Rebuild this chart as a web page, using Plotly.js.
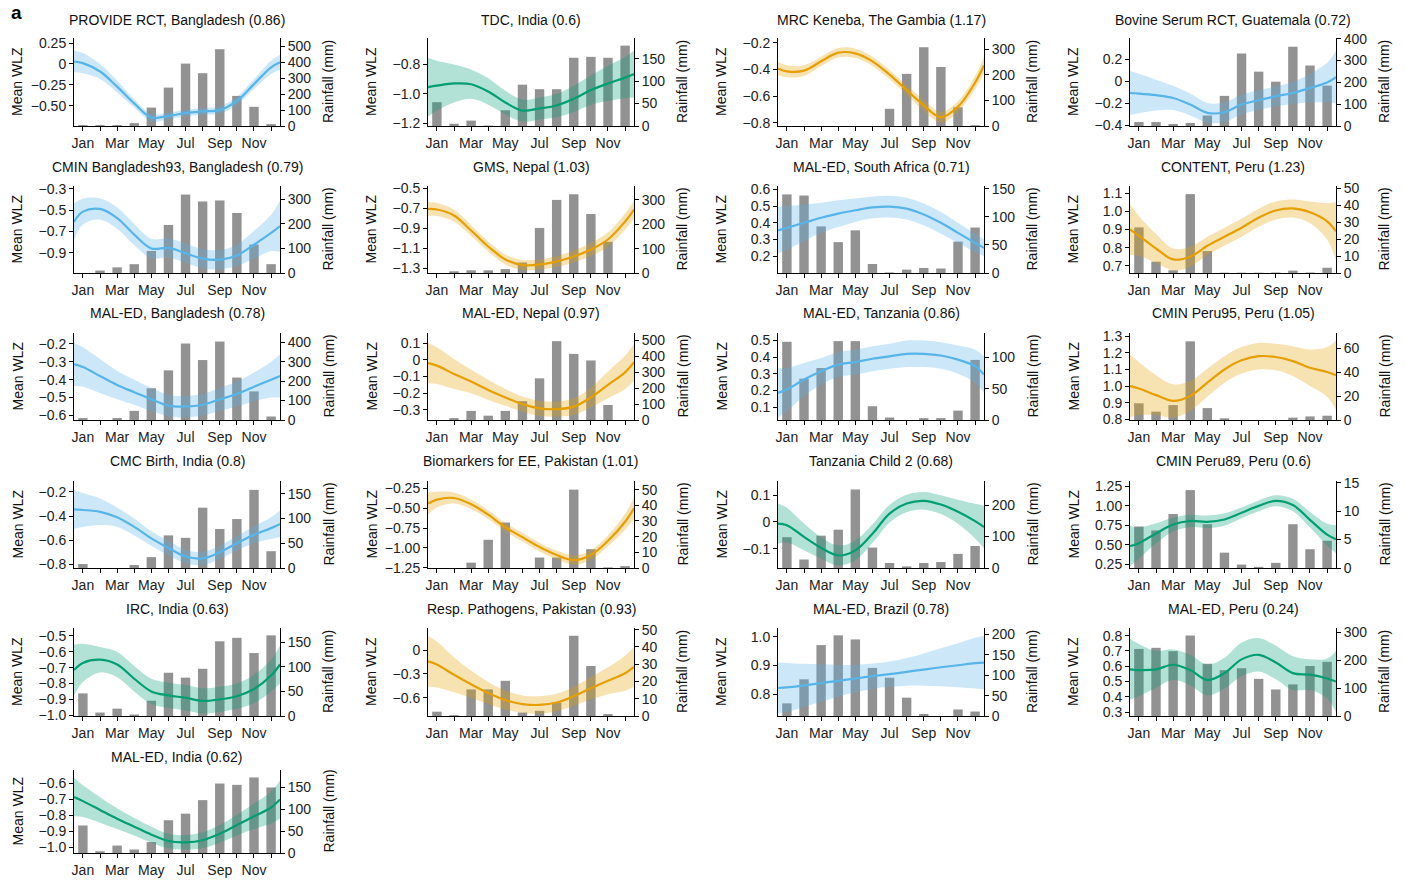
<!DOCTYPE html>
<html><head><meta charset="utf-8">
<script src="https://cdn.plot.ly/plotly-3.0.1.min.js"></script>
<style>html,body{margin:0;padding:0;background:#fff}#chart{width:1406px;height:880px}</style>
</head><body><div id="chart"></div>
<script>
// ---------- DATA ----------
const monthIndex = [1,2,3,4,5,6,7,8,9,10,11,12];
const monthLabels = ['Jan','','Mar','','May','','Jul','','Sep','','Nov',''];
// months at which the fitted WLZ curve was read (edges of the year axis included)
const curveMonths = [0.48,1,2,3,4,5,6,7,8,9,10,11,12,12.52];

const titles = [
 'PROVIDE RCT, Bangladesh (0.86)','TDC, India (0.6)','MRC Keneba, The Gambia (1.17)','Bovine Serum RCT, Guatemala (0.72)',
 'CMIN Bangladesh93, Bangladesh (0.79)','GMS, Nepal (1.03)','MAL-ED, South Africa (0.71)','CONTENT, Peru (1.23)',
 'MAL-ED, Bangladesh (0.78)','MAL-ED, Nepal (0.97)','MAL-ED, Tanzania (0.86)','CMIN Peru95, Peru (1.05)',
 'CMC Birth, India (0.8)','Biomarkers for EE, Pakistan (1.01)','Tanzania Child 2 (0.68)','CMIN Peru89, Peru (0.6)',
 'IRC, India (0.63)','Resp. Pathogens, Pakistan (0.93)','MAL-ED, Brazil (0.78)','MAL-ED, Peru (0.24)',
 'MAL-ED, India (0.62)'
];
const seriesColor = ['blue','green','orange','blue','blue','orange','blue','orange','blue','orange','blue','orange',
 'blue','orange','green','green','green','orange','blue','green','green'];

// monthly rainfall (mm), Jan..Dec
const rainfall = [
 [6,6,6,18,115,240,390,330,480,188,120,12],
 [53,5,12,1,35,92,82,82,152,154,152,179],
 [0,0,0,0,0,0,67,203,307,230,73,3],
 [18,18,9,14,48,138,332,249,203,363,277,185],
 [0,10,23,36,90,196,320,292,296,245,116,36],
 [0,7,11,11,16,43,185,300,323,242,128,0],
 [140,138,83,55,76,16,1,6,9,8,56,81],
 [27,6.7,1.6,46.7,13,0.2,0.2,0.2,0.3,1.4,0.3,3.1],
 [10,0,10,47,163,255,393,308,403,218,147,18],
 [0,12,57,27,57,118,261,494,414,373,94,0],
 [125,66,83,126,126,22,4,0,3,3,15,96],
 [14,7,12.5,66,10,1.4,0,0,0,2,3,3.6],
 [8,0,0,6,22,66,61,122,79,99,158,34],
 [0,0,3.4,18,29,0,6.7,6.7,50,12,0.4,1.2],
 [98,27,103,122,250,65,16,5,16,19,45,70],
 [7.3,6.6,9.5,13.7,7.7,2.7,0.6,0.2,0.9,7.7,3.3,4.8],
 [46,7,15,3,31,88,78,96,152,159,128,164],
 [2.5,0.5,15.4,15.4,20.4,2,3,7.7,46.5,29,1.1,0],
 [31,90,174,198,188,118,94,45,5,0,16,11],
 [240,244,232,288,187,164,171,133,95,113,179,194],
 [63,4,17,8,25,75,90,121,159,156,173,150]
];

// fitted mean WLZ at curveMonths
const wlzMean = [
 [0.03,0.01,-0.09,-0.27,-0.47,-0.64,-0.62,-0.585,-0.565,-0.55,-0.44,-0.24,-0.04,0.02],
 [-0.955,-0.945,-0.93,-0.935,-0.985,-1.06,-1.115,-1.1,-1.08,-1.035,-0.975,-0.93,-0.89,-0.865],
 [-0.395,-0.415,-0.41,-0.34,-0.275,-0.28,-0.34,-0.44,-0.555,-0.67,-0.76,-0.68,-0.5,-0.37],
 [-0.105,-0.11,-0.125,-0.15,-0.21,-0.285,-0.28,-0.21,-0.17,-0.135,-0.105,-0.06,-0.01,0.04],
 [-0.61,-0.515,-0.49,-0.575,-0.73,-0.86,-0.855,-0.905,-0.955,-0.965,-0.925,-0.825,-0.715,-0.65],
 [-0.705,-0.71,-0.77,-0.92,-1.08,-1.21,-1.265,-1.26,-1.23,-1.18,-1.11,-1.01,-0.83,-0.71],
 [0.355,0.37,0.4,0.43,0.455,0.475,0.492,0.497,0.485,0.45,0.4,0.34,0.28,0.25],
 [0.9,0.865,0.795,0.735,0.75,0.81,0.86,0.91,0.965,1.005,1.016,0.995,0.945,0.89],
 [-0.315,-0.33,-0.38,-0.43,-0.47,-0.51,-0.545,-0.55,-0.54,-0.51,-0.48,-0.44,-0.4,-0.38],
 [-0.02,-0.035,-0.085,-0.13,-0.18,-0.225,-0.265,-0.29,-0.295,-0.28,-0.225,-0.15,-0.075,-0.015],
 [0.185,0.205,0.265,0.315,0.355,0.37,0.39,0.405,0.42,0.42,0.41,0.385,0.345,0.295],
 [1.0,0.985,0.945,0.91,0.94,1.02,1.1,1.155,1.18,1.175,1.15,1.11,1.085,1.065],
 [-0.345,-0.35,-0.365,-0.41,-0.49,-0.585,-0.665,-0.735,-0.75,-0.7,-0.625,-0.555,-0.5,-0.465],
 [-0.44,-0.39,-0.37,-0.45,-0.58,-0.74,-0.865,-0.99,-1.09,-1.155,-1.09,-0.91,-0.67,-0.5],
 [-0.006,-0.012,-0.056,-0.097,-0.125,-0.106,-0.044,0.031,0.069,0.079,0.065,0.038,0.003,-0.019],
 [0.48,0.52,0.645,0.76,0.805,0.795,0.825,0.91,1.0,1.065,1.01,0.82,0.63,0.57],
 [-0.715,-0.67,-0.65,-0.68,-0.77,-0.85,-0.875,-0.89,-0.91,-0.9,-0.88,-0.835,-0.75,-0.68],
 [-0.14,-0.18,-0.31,-0.43,-0.54,-0.63,-0.68,-0.69,-0.66,-0.58,-0.48,-0.385,-0.29,-0.21],
 [0.822,0.824,0.831,0.839,0.847,0.855,0.863,0.87,0.878,0.886,0.894,0.901,0.908,0.91],
 [0.58,0.575,0.58,0.61,0.575,0.51,0.555,0.645,0.675,0.625,0.555,0.545,0.52,0.5],
 [-0.685,-0.71,-0.765,-0.82,-0.87,-0.92,-0.96,-0.968,-0.955,-0.915,-0.86,-0.805,-0.75,-0.7]
];

// half-width of the confidence band at curveMonths
const wlzHalfBand = [
 [0.13,0.12,0.09,0.07,0.05,0.045,0.04,0.04,0.04,0.045,0.05,0.06,0.08,0.09],
 [0.2,0.17,0.13,0.1,0.09,0.08,0.075,0.075,0.08,0.09,0.1,0.12,0.14,0.16],
 [0.05,0.045,0.04,0.035,0.035,0.035,0.035,0.035,0.035,0.04,0.04,0.04,0.05,0.06],
 [0.2,0.18,0.14,0.11,0.1,0.09,0.09,0.09,0.09,0.09,0.1,0.13,0.18,0.24],
 [0.17,0.12,0.1,0.1,0.1,0.09,0.09,0.09,0.09,0.09,0.1,0.13,0.17,0.24],
 [0.07,0.065,0.06,0.055,0.05,0.05,0.05,0.05,0.055,0.06,0.065,0.07,0.08,0.09],
 [0.14,0.13,0.11,0.09,0.08,0.07,0.065,0.065,0.065,0.065,0.065,0.06,0.055,0.05],
 [0.14,0.11,0.08,0.06,0.055,0.05,0.05,0.05,0.05,0.05,0.05,0.06,0.1,0.16],
 [0.12,0.11,0.095,0.08,0.07,0.065,0.06,0.06,0.06,0.065,0.07,0.08,0.1,0.12],
 [0.12,0.11,0.09,0.07,0.06,0.05,0.045,0.045,0.045,0.05,0.06,0.08,0.1,0.11],
 [0.15,0.13,0.1,0.08,0.075,0.075,0.075,0.075,0.08,0.08,0.08,0.085,0.1,0.11],
 [0.19,0.16,0.12,0.1,0.09,0.085,0.08,0.08,0.08,0.08,0.09,0.11,0.15,0.21],
 [0.16,0.14,0.11,0.08,0.07,0.06,0.06,0.055,0.055,0.055,0.06,0.07,0.09,0.11],
 [0.14,0.1,0.07,0.06,0.055,0.055,0.055,0.055,0.055,0.06,0.06,0.07,0.1,0.14],
 [0.075,0.065,0.05,0.04,0.037,0.037,0.035,0.033,0.033,0.033,0.035,0.045,0.065,0.08],
 [0.26,0.2,0.13,0.09,0.08,0.08,0.08,0.07,0.07,0.07,0.08,0.1,0.14,0.18],
 [0.16,0.12,0.08,0.08,0.08,0.08,0.08,0.08,0.08,0.08,0.08,0.09,0.1,0.12],
 [0.32,0.29,0.22,0.17,0.14,0.12,0.11,0.11,0.11,0.12,0.14,0.17,0.22,0.25],
 [0.088,0.085,0.075,0.065,0.055,0.048,0.044,0.044,0.048,0.056,0.066,0.076,0.088,0.093],
 [0.2,0.17,0.12,0.1,0.1,0.1,0.1,0.11,0.11,0.11,0.11,0.1,0.13,0.2],
 [0.12,0.1,0.08,0.065,0.055,0.05,0.045,0.045,0.05,0.055,0.065,0.08,0.1,0.12]
];

// left-axis (Mean WLZ) tick labels and visible ranges
const wlzTickLabels = [
 ['0.25','0','−0.25','−0.50'], ['−0.8','−1.0','−1.2'], ['−0.2','−0.4','−0.6','−0.8'], ['0.2','0','−0.2','−0.4'],
 ['−0.3','−0.5','−0.7','−0.9'], ['−0.5','−0.7','−0.9','−1.1','−1.3'], ['0.6','0.5','0.4','0.3','0.2'], ['1.1','1.0','0.9','0.8','0.7'],
 ['−0.2','−0.3','−0.4','−0.5','−0.6'], ['0.1','0','−0.1','−0.2','−0.3'], ['0.5','0.4','0.3','0.2','0.1'], ['1.3','1.2','1.1','1.0','0.9','0.8'],
 ['−0.2','−0.4','−0.6','−0.8'], ['−0.25','−0.50','−0.75','−1.00','−1.25'], ['0.1','0','−0.1'], ['1.25','1.00','0.75','0.50','0.25'],
 ['−0.5','−0.6','−0.7','−0.8','−0.9','−1.0'], ['0','−0.3','−0.6'], ['1.0','0.9','0.8'], ['0.8','0.7','0.6','0.5','0.4','0.3'],
 ['−0.6','−0.7','−0.8','−0.9','−1.0']
];
const wlzRange = [
 [-0.74,0.31],[-1.22,-0.62],[-0.825,-0.165],[-0.405,0.395],
 [-1.09,-0.275],[-1.345,-0.475],[0.10,0.62],[0.66,1.14],
 [-0.625,-0.14],[-0.36,0.16],[0.022,0.545],[0.795,1.32],
 [-0.83,-0.11],[-1.255,-0.155],[-0.172,0.153],[0.20,1.32],
 [-1.005,-0.45],[-0.83,0.28],[0.725,1.03],[0.275,0.85],
 [-1.035,-0.515]
];
// right-axis (Rainfall) top of range and tick step
const rainTop = [550,196,343,403,355,357,155,51.5,447,545,139,73,176,55.5,277,15.3,179,51,216,315,190];
const rainStep = [100,50,100,100,100,100,50,10,100,100,50,20,50,10,100,5,50,10,50,100,50];

// ---------- STYLE / LAYOUT ----------
const W = 1406, H = 880;
const colLeft = [74, 428, 778, 1130];
const plotW = 206;
const rowTop = [38, 186, 333, 481, 628, 770];
const rowBot = [126, 273, 420, 568, 716, 853];
const titleY = [20, 167, 313, 461, 609, 757];
const lineCol = {blue:'#56B4E9', orange:'#E69F00', green:'#009E73'};
const bandCol = {blue:'rgba(86,180,233,0.3)', orange:'rgba(230,159,0,0.3)', green:'rgba(0,158,115,0.3)'};
const FONT = 'Liberation Sans, Arial, Helvetica, sans-serif';
const tickFont = {family: FONT, size: 14, color: '#222'};

const traces = [];
const layout = {
  width: W, height: H, margin: {l:0, r:0, t:0, b:0},
  paper_bgcolor: '#fff', plot_bgcolor: 'rgba(0,0,0,0)',
  showlegend: false, font: {family: FONT, size: 14, color: '#222'},
  annotations: []
};

const axisCommon = {
  showgrid: false, zeroline: false, showline: true, linecolor: '#000', linewidth: 1,
  ticks: 'outside', ticklen: 4, tickwidth: 1, tickcolor: '#000', tickfont: tickFont, fixedrange: true
};

titles.forEach((title, i) => {
  const r = Math.floor(i / 4), c = i % 4;
  const x0 = colLeft[c] / W, x1 = (colLeft[c] + plotW) / W;
  const y0 = 1 - rowBot[r] / H, y1 = 1 - rowTop[r] / H;
  const xn = i === 0 ? '' : String(i + 1);
  const rn = String(2 * i + 1), wn = String(2 * i + 2);
  const xRef = 'x' + xn, rRef = 'y' + (rn === '1' ? '' : rn), wRef = 'y' + wn;

  layout['xaxis' + xn] = Object.assign({}, axisCommon, {
    domain: [x0, x1], anchor: rRef, range: [curveMonths[0], curveMonths[curveMonths.length - 1]],
    tickmode: 'array', tickvals: monthIndex, ticktext: monthLabels
  });
  layout['yaxis' + (rn === '1' ? '' : rn)] = Object.assign({}, axisCommon, {
    domain: [y0, y1], anchor: xRef, side: 'right', range: [0, rainTop[i]],
    tick0: 0, dtick: rainStep[i]
  });
  layout['yaxis' + wn] = Object.assign({}, axisCommon, {
    overlaying: rRef, anchor: xRef, side: 'left', range: wlzRange[i],
    tickmode: 'array',
    tickvals: wlzTickLabels[i].map(t => parseFloat(t.replace('−', '-'))),
    ticktext: wlzTickLabels[i]
  });

  const col = seriesColor[i];
  traces.push({
    type: 'bar', x: monthIndex, y: rainfall[i], xaxis: xRef, yaxis: rRef,
    width: 0.55, marker: {color: '#929292', line: {width: 0}}, hoverinfo: 'skip'
  });
  const lo = wlzMean[i].map((m, k) => m - wlzHalfBand[i][k]);
  const hi = wlzMean[i].map((m, k) => m + wlzHalfBand[i][k]);
  traces.push({
    type: 'scatter', mode: 'lines', x: curveMonths, y: lo, xaxis: xRef, yaxis: wRef,
    line: {width: 0, shape: 'spline', smoothing: 1, color: 'rgba(0,0,0,0)'}, hoverinfo: 'skip'
  });
  traces.push({
    type: 'scatter', mode: 'lines', x: curveMonths, y: hi, xaxis: xRef, yaxis: wRef,
    fill: 'tonexty', fillcolor: bandCol[col],
    line: {width: 0, shape: 'spline', smoothing: 1, color: 'rgba(0,0,0,0)'}, hoverinfo: 'skip'
  });
  traces.push({
    type: 'scatter', mode: 'lines', x: curveMonths, y: wlzMean[i], xaxis: xRef, yaxis: wRef,
    line: {width: 2.2, shape: 'spline', smoothing: 1, color: lineCol[col]}, hoverinfo: 'skip'
  });

  const yc = 1 - (rowTop[r] + rowBot[r]) / 2 / H;
  layout.annotations.push({
    text: title, xref: 'paper', yref: 'paper', x: (colLeft[c] + plotW / 2) / W, y: 1 - titleY[r] / H,
    xanchor: 'center', yanchor: 'middle', showarrow: false, font: {family: FONT, size: 14, color: '#111'}
  });
  layout.annotations.push({
    text: 'Mean WLZ', xref: 'paper', yref: 'paper', x: (colLeft[c] - 57) / W, y: yc,
    xanchor: 'center', yanchor: 'middle', textangle: -90, showarrow: false,
    font: {family: FONT, size: 14, color: '#111'}
  });
  layout.annotations.push({
    text: 'Rainfall (mm)', xref: 'paper', yref: 'paper', x: (colLeft[c] + plotW + 48) / W, y: yc,
    xanchor: 'center', yanchor: 'middle', textangle: -90, showarrow: false,
    font: {family: FONT, size: 14, color: '#111'}
  });
});

layout.annotations.push({
  text: '<b>a</b>', xref: 'paper', yref: 'paper', x: 16 / W, y: 1 - 13 / H,
  xanchor: 'center', yanchor: 'middle', showarrow: false, font: {family: FONT, size: 19, color: '#000'}
});

Plotly.newPlot('chart', traces, layout, {displayModeBar: false, staticPlot: true});
</script>
</body></html>
